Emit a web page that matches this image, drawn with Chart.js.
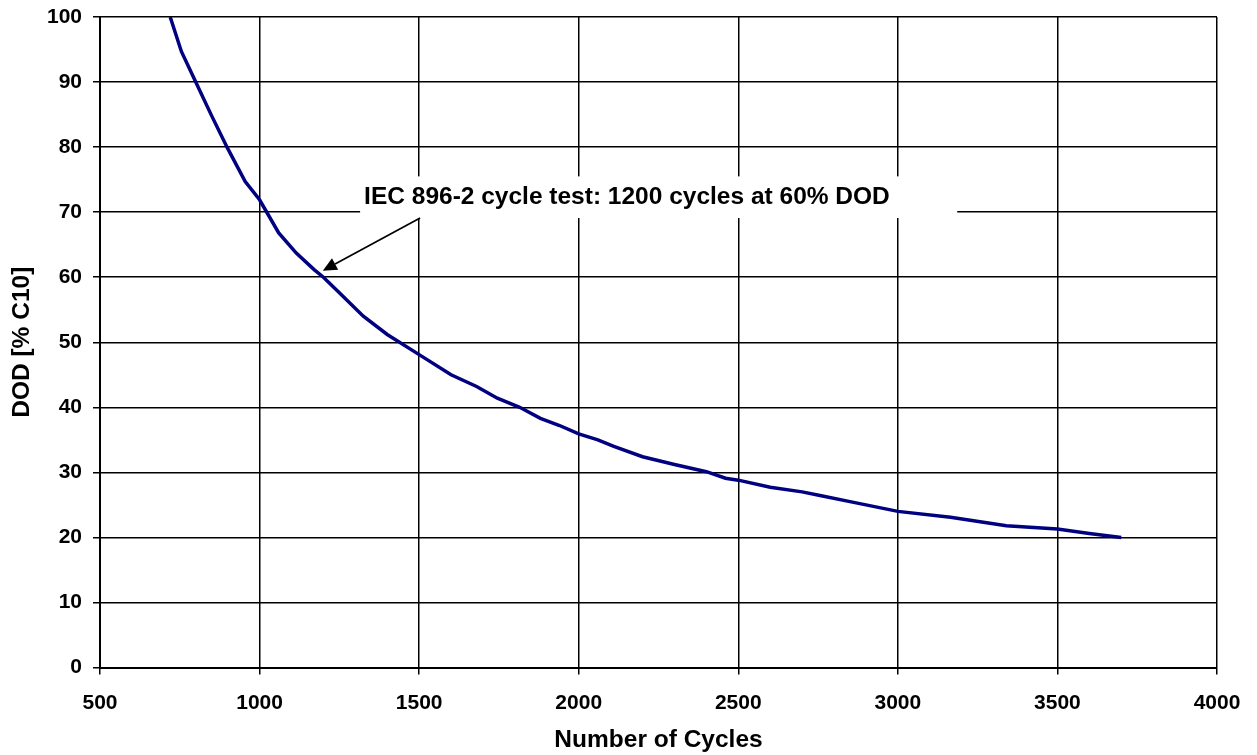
<!DOCTYPE html>
<html>
<head>
  <meta charset="utf-8">
  <title>DOD vs Number of Cycles</title>
  <script src="https://cdn.jsdelivr.net/npm/chart.js"></script>
  <style>
    html, body { margin: 0; padding: 0; background: #fff; }
    #wrap { width: 1257px; height: 755px; position: relative; }
  </style>
</head>
<body>
  <div id="wrap"><canvas id="cycleChart"></canvas></div>

  <script>
    // values
    const cycles = [720, 755, 800, 850, 900, 955, 1000, 1060, 1115, 1170, 1200, 1250, 1325, 1400, 1500,
                    1600, 1680, 1745, 1815, 1880, 1940, 2000, 2060, 2110, 2200, 2300, 2400, 2460, 2500,
                    2600, 2700, 2760, 2850, 3000, 3165, 3340, 3500, 3600, 3700];
    const dod = [100, 94.7, 90, 84.8, 79.8, 74.7, 71.9, 66.8, 63.7, 61.2, 60, 57.6, 54, 51.2, 48.1,
                 45, 43.2, 41.4, 40, 38.3, 37.2, 35.9, 35, 34, 32.4, 31.2, 30.1, 29.1, 28.8,
                 27.7, 27, 26.4, 25.5, 24, 23.1, 21.8, 21.3, 20.6, 20];

    const xTicks = [500, 1000, 1500, 2000, 2500, 3000, 3500, 4000];
    const yTicks = [0, 10, 20, 30, 40, 50, 60, 70, 80, 90, 100];

    const noteText = 'IEC 896-2 cycle test: 1200 cycles at 60% DOD';
    const noteTarget = [1198, 61];   // arrow tip (cycles, DOD)
    const noteFrom = [1503, 69.1];   // arrow start
    const noteBox = [1315, 3186, 75.5, 69.1]; // x1, x2, yTop, yBottom

    const fontFam = '"Liberation Sans", Arial, sans-serif';

    // text box with arrow
    const notePlugin = {
      id: 'note',
      afterDatasetsDraw(chart) {
        const ctx = chart.ctx;
        const xs = chart.scales.x, ys = chart.scales.y;
        const bx1 = xs.getPixelForValue(noteBox[0]);
        const bx2 = xs.getPixelForValue(noteBox[1]);
        const by1 = ys.getPixelForValue(noteBox[2]);
        const by2 = ys.getPixelForValue(noteBox[3]);
        ctx.save();
        ctx.fillStyle = '#fff';
        ctx.fillRect(bx1, by1, bx2 - bx1, by2 - by1);

        ctx.fillStyle = '#000';
        ctx.font = 'bold 24.5px ' + fontFam;
        ctx.textAlign = 'left';
        ctx.textBaseline = 'middle';
        ctx.fillText(noteText, bx1 + 4, (by1 + by2) / 2);

        const sx = xs.getPixelForValue(noteFrom[0]), sy = ys.getPixelForValue(noteFrom[1]);
        const tx = xs.getPixelForValue(noteTarget[0]), ty = ys.getPixelForValue(noteTarget[1]);
        const ang = Math.atan2(ty - sy, tx - sx);
        const len = 14, half = 6.5;
        const baseX = tx - len * Math.cos(ang), baseY = ty - len * Math.sin(ang);
        ctx.strokeStyle = '#000';
        ctx.lineWidth = 1.7;
        ctx.beginPath();
        ctx.moveTo(sx, sy);
        ctx.lineTo(baseX, baseY);
        ctx.stroke();
        ctx.beginPath();
        ctx.moveTo(tx, ty);
        ctx.lineTo(baseX + half * Math.sin(ang), baseY - half * Math.cos(ang));
        ctx.lineTo(baseX - half * Math.sin(ang), baseY + half * Math.cos(ang));
        ctx.closePath();
        ctx.fill();
        ctx.restore();
      }
    };

    const points = cycles.map((c, i) => ({ x: c, y: dod[i] }));

    new Chart(document.getElementById('cycleChart'), {
      type: 'scatter',
      data: {
        datasets: [{
          data: points,
          showLine: true,
          borderColor: '#000080',
          borderWidth: 3.5,
          pointRadius: 0,
          tension: 0,
          fill: false
        }]
      },
      options: {
        responsive: true,
        maintainAspectRatio: false,
        animation: false,
        layout: { padding: { top: 17, right: 40, left: 0, bottom: 0 } },
        plugins: {
          legend: { display: false },
          tooltip: { enabled: false }
        },
        scales: {
          x: {
            type: 'linear',
            min: xTicks[0],
            max: xTicks[xTicks.length - 1],
            afterBuildTicks: s => { s.ticks = xTicks.map(v => ({ value: v })); },
            afterFit: s => { s.height = 87.5; s.paddingLeft = 0; s.paddingRight = 0; },
            grid: { color: '#000', lineWidth: 1.5, tickLength: 7, tickColor: '#000', tickWidth: 1.5 },
            border: { color: '#000', width: 2 },
            ticks: {
              color: '#000',
              padding: 16,
              maxRotation: 0,
              callback: v => String(v),
              font: { family: fontFam, size: 21, weight: 'bold' }
            },
            title: {
              display: true,
              text: 'Number of Cycles',
              color: '#000',
              padding: { top: 0, bottom: 0 },
              font: { family: fontFam, size: 24.5, weight: 'bold' }
            }
          },
          y: {
            min: yTicks[0],
            max: yTicks[yTicks.length - 1],
            afterBuildTicks: s => { s.ticks = yTicks.map(v => ({ value: v })); },
            afterFit: s => { s.width = 100; s.paddingTop = 0; s.paddingBottom = 0; },
            grid: { color: '#000', lineWidth: 1.5, tickLength: 7, tickColor: '#000', tickWidth: 1.5 },
            border: { color: '#000', width: 2 },
            ticks: {
              color: '#000',
              padding: 11,
              callback: v => String(v),
              font: { family: fontFam, size: 21, weight: 'bold' }
            },
            title: {
              display: true,
              text: 'DOD [% C10]',
              color: '#000',
              padding: { top: 8, bottom: 0 },
              font: { family: fontFam, size: 24.5, weight: 'bold' }
            }
          }
        }
      },
      plugins: [notePlugin]
    });
  </script>
</body>
</html>
